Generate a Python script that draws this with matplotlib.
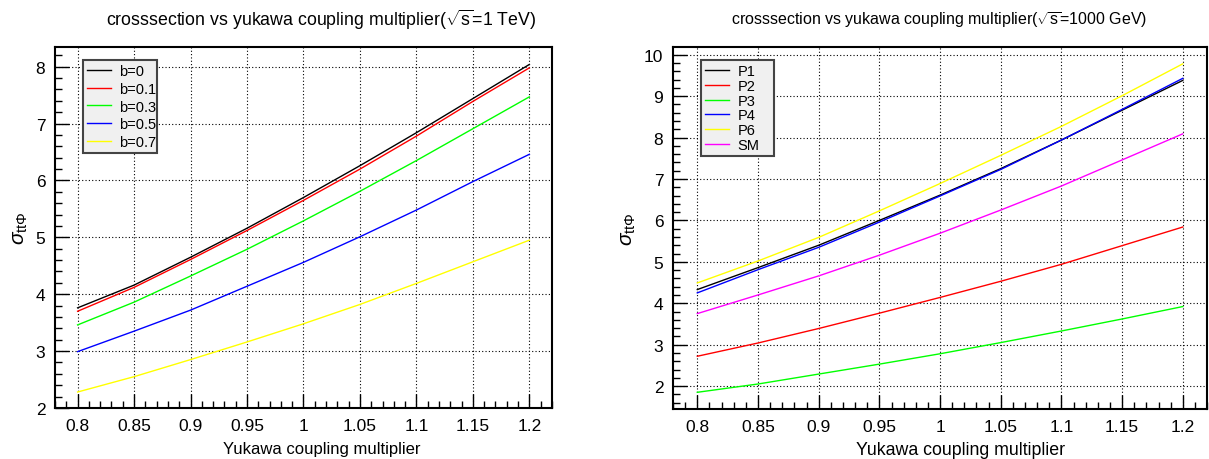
import matplotlib
matplotlib.use("Agg")
import matplotlib.pyplot as plt
from matplotlib.ticker import MultipleLocator

plt.rcParams['font.family'] = ['Liberation Sans', 'DejaVu Sans']
plt.rcParams['mathtext.fontset'] = 'custom'
plt.rcParams['mathtext.rm'] = 'Liberation Sans'
plt.rcParams['mathtext.it'] = 'Liberation Sans:italic'

kappa = [0.8, 0.85, 0.9, 0.95, 1.0, 1.05, 1.1, 1.15, 1.2]

# left panel: sqrt(s) = 1 TeV, different b
b_labels = ['b=0', 'b=0.1', 'b=0.3', 'b=0.5', 'b=0.7']
b00 = [3.76, 4.16, 4.65, 5.16, 5.70, 6.26, 6.84, 7.44, 8.04]
b01 = [3.70, 4.12, 4.61, 5.12, 5.65, 6.20, 6.78, 7.39, 7.98]
b03 = [3.46, 3.86, 4.32, 4.79, 5.29, 5.81, 6.35, 6.91, 7.47]
b05 = [2.99, 3.35, 3.72, 4.14, 4.56, 5.01, 5.48, 5.98, 6.46]
b07 = [2.28, 2.55, 2.85, 3.16, 3.48, 3.82, 4.19, 4.57, 4.95]
b_colors = ['black', 'red', '#00ff00', 'blue', '#ffff00']

# right panel: sqrt(s) = 1000 GeV, benchmark points
p_labels = ['P1', 'P2', 'P3', 'P4', 'P6', 'SM']
p1 = [4.33, 4.86, 5.40, 6.00, 6.61, 7.25, 7.94, 8.66, 9.38]
p2 = [2.72, 3.04, 3.39, 3.76, 4.14, 4.53, 4.94, 5.39, 5.84]
p3 = [1.85, 2.05, 2.29, 2.53, 2.78, 3.05, 3.33, 3.62, 3.92]
p4 = [4.25, 4.81, 5.35, 5.96, 6.59, 7.23, 7.94, 8.68, 9.43]
p6 = [4.49, 5.02, 5.59, 6.23, 6.89, 7.57, 8.27, 9.01, 9.78]
sm = [3.75, 4.20, 4.66, 5.16, 5.69, 6.25, 6.83, 7.46, 8.09]
p_colors = ['black', 'red', '#00ff00', 'blue', '#ffff00', '#ff00ff']

fig = plt.figure(figsize=(12.09, 4.6), dpi=100)
ax1 = fig.add_axes([0.0455, 0.111, 0.411, 0.785])
ax2 = fig.add_axes([0.5567, 0.109, 0.4417, 0.787])


def style(ax, ylim, xlab_x, xlab_size):
    ax.set_xlim(0.78, 1.22)
    ax.set_ylim(*ylim)
    ax.xaxis.set_major_locator(MultipleLocator(0.05))
    ax.xaxis.set_minor_locator(MultipleLocator(0.01))
    ax.yaxis.set_major_locator(MultipleLocator(1))
    ax.yaxis.set_minor_locator(MultipleLocator(0.2))
    ax.xaxis.set_major_formatter(plt.FuncFormatter(lambda v, p: ('%.2f' % v).rstrip('0').rstrip('.')))
    ax.tick_params(which='major', direction='in', length=10, width=1, labelsize=12.5, pad=7)
    ax.tick_params(which='minor', direction='in', length=5, width=1)
    ax.tick_params(top=False, right=False)
    ax.grid(True, which='major', color='black', linestyle=(0, (1, 2)), linewidth=0.8)
    for s in ax.spines.values():
        s.set_linewidth(1.5)
    ax.set_xlabel('Yukawa coupling multiplier', fontsize=xlab_size, va='center')
    ax.xaxis.set_label_coords(xlab_x, -0.111)
    ax.set_ylabel(r'$\sigma_{\mathrm{tt\Phi}}$', fontsize=15, labelpad=4)


for ys, lab, c in zip([b00, b01, b03, b05, b07], b_labels, b_colors):
    ax1.plot(kappa, ys, color=c, lw=1, label=lab)
style(ax1, (2.0, 8.35), 0.537, 12)

for ys, lab, c in zip([p1, p2, p3, p4, p6, sm], p_labels, p_colors):
    ax2.plot(kappa, ys, color=c, lw=1, label=lab)
style(ax2, (1.45, 10.19), 0.538, 12.8)

fig.text(321 / 1209, 1 - 20 / 460, r'crosssection vs yukawa coupling multiplier($\sqrt{\mathrm{s}}$=1 TeV)',
         ha='center', va='center', fontsize=12.8)
fig.text(939 / 1209, 1 - 20 / 460, r'crosssection vs yukawa coupling multiplier($\sqrt{\mathrm{s}}$=1000 GeV)',
         ha='center', va='center', fontsize=11.5)

for ax, box, spacing in [(ax1, (0.0563, 0.964, 0.149, 0), 0.25), (ax2, (0.052, 0.964, 0.137, 0), 0.05)]:
    leg = ax.legend(loc='upper left', bbox_to_anchor=box, mode='expand', fontsize=10.5, frameon=True,
                    fancybox=False, framealpha=1, edgecolor='#444444', facecolor='#f0f0f0',
                    handlelength=1.6, handletextpad=0.6, labelspacing=spacing, borderpad=0.3,
                    borderaxespad=0)
    leg.get_frame().set_linewidth(1.5)

fig.savefig('out.png', dpi=100)
